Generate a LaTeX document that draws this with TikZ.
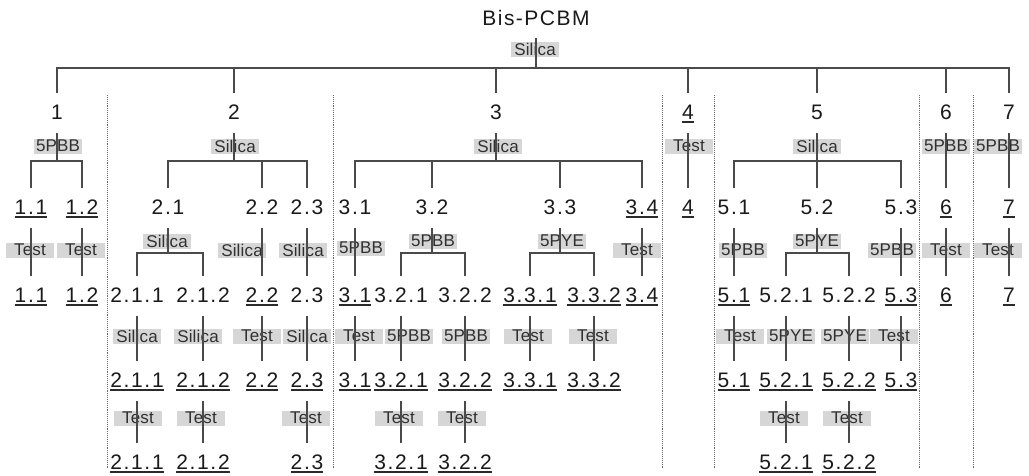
\documentclass[tikz,border=0pt]{standalone}
\usepackage{fontspec}
\setmainfont{Liberation Sans}
\newfontfamily\lvfont[LetterSpace=8]{Liberation Sans}
\newfontfamily\bxfont[LetterSpace=1]{Liberation Sans}
\newfontfamily\ttlfont[LetterSpace=7]{Liberation Sans}

\definecolor{txt}{HTML}{1A1A1A}
\definecolor{lncol}{HTML}{4A4A4A}
\definecolor{boxgray}{HTML}{D6D6D6}
\definecolor{bxtxt}{HTML}{303030}
\definecolor{ulcol}{HTML}{2A2A2A}
\definecolor{sepcol}{HTML}{6A6A6A}

\tikzset{
  lv/.style={inner sep=0pt, text=txt, font=\lvfont\fontsize{21}{21}\selectfont},
  bx/.style={inner sep=0pt, minimum width=48pt, minimum height=15pt, fill=boxgray,
             text=bxtxt, font=\bxfont\fontsize{17}{17}\selectfont},
  conn/.style={draw=lncol, line width=1.4pt},
  ulstyle/.style={draw=ulcol, line width=1.8pt},
  sepline/.style={draw=sepcol, line width=0.9pt, densely dotted},
}

% straight link from a parent label down to a child label
\newcommand\linkdown[2]{\draw[conn] ([yshift=-21pt]#1.center) -- ([yshift=19pt]#2.center);}
% stub from a parent label down to its bracket
\newcommand\stubdown[2]{\draw[conn] ([yshift=-21pt]#1.center) -- (#1 |- #2);}
% bracket ends: first child, last child, bracket level
\newcommand\bracketends[3]{\draw[conn] ([yshift=19pt]#1.center) -- (#1 |- #3) -- (#2 |- #3) -- ([yshift=19pt]#2.center);}
% inner drop from the bracket to a child
\newcommand\innerdrop[2]{\draw[conn] (#1 |- #2) -- ([yshift=19pt]#1.center);}

\begin{document}
\begin{tikzpicture}[x=1pt, y=-1pt]
\useasboundingbox (0,0) rectangle (1029,475);
\fill[white] (0,0) rectangle (1029,475);

% bracket levels
\coordinate (ktop) at (0,68);
\coordinate (k1) at (0,161);
\coordinate (k2) at (0,253);

% ---------- grey step boxes (drawn first, lines pass over them)
\node[bx] (x0) at (535,49) {Silica};
% row 2
\node[bx] (x1) at (58,146) {5PBB};
\node[bx] (x2) at (235,146) {Silica};
\node[bx] (x3) at (498,146) {Silica};
\node[bx] (x4) at (689,146) {Test};
\node[bx] (x5) at (817,146) {Silica};
\node[bx] (x6) at (946,146) {5PBB};
\node[bx] (x7) at (998,146) {5PBB};
% row 3
\node[bx] (y11) at (30,250) {Test};
\node[bx] (y12) at (81,250) {Test};
\node[bx] (y21) at (167,241) {Silica};
\node[bx] (y22) at (242,250) {Silica};
\node[bx] (y23) at (303,250) {Silica};
\node[bx] (y31) at (361,248) {5PBB};
\node[bx] (y32) at (433,241) {5PBB};
\node[bx] (y33) at (562,241) {5PYE};
\node[bx] (y34) at (637,250) {Test};
\node[bx] (y51) at (743,250) {5PBB};
\node[bx] (y52) at (817,241) {5PYE};
\node[bx] (y53) at (892,250) {5PBB};
\node[bx] (y6) at (946,250) {Test};
\node[bx] (y7) at (998,250) {Test};
% row 4
\node[bx] (z211) at (137,336) {Silica};
\node[bx] (z212) at (198,336) {Silica};
\node[bx] (z22) at (257,336) {Test};
\node[bx] (z23) at (307,336) {Silica};
\node[bx] (z31) at (359,336) {Test};
\node[bx] (z321) at (409,336) {5PBB};
\node[bx] (z322) at (466,336) {5PBB};
\node[bx] (z331) at (528,336) {Test};
\node[bx] (z332) at (593,336) {Test};
\node[bx] (z51) at (740,336) {Test};
\node[bx] (z521) at (791,336) {5PYE};
\node[bx] (z522) at (845,336) {5PYE};
\node[bx] (z53) at (894,336) {Test};
% row 5
\node[bx] (w211) at (138,418) {Test};
\node[bx] (w212) at (201,418) {Test};
\node[bx] (w23) at (306,418) {Test};
\node[bx] (w321) at (399,418) {Test};
\node[bx] (w322) at (462,418) {Test};
\node[bx] (w521) at (784,418) {Test};
\node[bx] (w522) at (847,418) {Test};

% ---------- labels
\node[inner sep=0pt, text=txt, font=\ttlfont\fontsize{21}{21}\selectfont] (title) at (536,18) {Bis-PCBM};

% level 1
\node[lv] (L1) at (57,112) {1};
\node[lv] (L2) at (234,112) {2};
\node[lv] (L3) at (496,112) {3};
\node[lv] (L4) at (688,112) {4};
\node[lv] (L5) at (817,112) {5};
\node[lv] (L6) at (946,112) {6};
\node[lv] (L7) at (1009,112) {7};

% level 2
\node[lv] (A11) at (31,207) {1.1};
\node[lv] (A12) at (82,207) {1.2};
\node[lv] (A21) at (168,207) {2.1};
\node[lv] (A22) at (262,207) {2.2};
\node[lv] (A23) at (307,207) {2.3};
\node[lv] (A31) at (355,207) {3.1};
\node[lv] (A32) at (432,207) {3.2};
\node[lv] (A33) at (560,207) {3.3};
\node[lv] (A34) at (642,207) {3.4};
\node[lv] (A4) at (688,207) {4};
\node[lv] (A51) at (734,207) {5.1};
\node[lv] (A52) at (817,207) {5.2};
\node[lv] (A53) at (901,207) {5.3};
\node[lv] (A6) at (946,207) {6};
\node[lv] (A7) at (1009,207) {7};

% level 3
\node[lv] (B11) at (31,295) {1.1};
\node[lv] (B12) at (82,295) {1.2};
\node[lv] (B211) at (137,295) {2.1.1};
\node[lv] (B212) at (203,295) {2.1.2};
\node[lv] (B22) at (262,295) {2.2};
\node[lv] (B23) at (307,295) {2.3};
\node[lv] (B31) at (355,295) {3.1};
\node[lv] (B321) at (401,295) {3.2.1};
\node[lv] (B322) at (465,295) {3.2.2};
\node[lv] (B331) at (530,295) {3.3.1};
\node[lv] (B332) at (594,295) {3.3.2};
\node[lv] (B34) at (642,295) {3.4};
\node[lv] (B51) at (734,295) {5.1};
\node[lv] (B521) at (786,295) {5.2.1};
\node[lv] (B522) at (849,295) {5.2.2};
\node[lv] (B53) at (901,295) {5.3};
\node[lv] (B6) at (946,295) {6};
\node[lv] (B7) at (1009,295) {7};

% level 4
\node[lv] (C211) at (137,380) {2.1.1};
\node[lv] (C212) at (203,380) {2.1.2};
\node[lv] (C22) at (262,380) {2.2};
\node[lv] (C23) at (307,380) {2.3};
\node[lv] (C31) at (355,380) {3.1};
\node[lv] (C321) at (401,380) {3.2.1};
\node[lv] (C322) at (465,380) {3.2.2};
\node[lv] (C331) at (530,380) {3.3.1};
\node[lv] (C332) at (594,380) {3.3.2};
\node[lv] (C51) at (734,380) {5.1};
\node[lv] (C521) at (786,380) {5.2.1};
\node[lv] (C522) at (849,380) {5.2.2};
\node[lv] (C53) at (901,380) {5.3};

% level 5
\node[lv] (D211) at (137,462) {2.1.1};
\node[lv] (D212) at (203,462) {2.1.2};
\node[lv] (D23) at (307,462) {2.3};
\node[lv] (D321) at (401,462) {3.2.1};
\node[lv] (D322) at (465,462) {3.2.2};
\node[lv] (D521) at (786,462) {5.2.1};
\node[lv] (D522) at (849,462) {5.2.2};

% ---------- underlined (final) samples
\foreach \u in {L4, A11, A12, A34, A4, A6, A7,
                B11, B12, B22, B31, B331, B332, B34, B51, B53, B6, B7,
                C211, C212, C22, C23, C31, C321, C322, C331, C332, C51, C521, C522, C53,
                D211, D212, D23, D321, D322, D521, D522}
  {\draw[ulstyle] ([yshift=-2.5pt]\u.base west) -- ([yshift=-2.5pt]\u.base east);}

% ---------- column separators
\foreach \sx in {107,333,662,714,919,973}
  {\draw[sepline] (\sx,95) -- (\sx,468);}

% ---------- connectors
% top bracket
\draw[conn] ([yshift=-20pt]title.center) -- (title |- ktop);
\draw[conn] ([yshift=19pt]L1.center) -- (L1 |- ktop) -- (L7 |- ktop) -- ([yshift=19pt]L7.center);
\foreach \n in {L2,L3,L4,L5,L6} {\innerdrop{\n}{ktop}}

% level 1 -> level 2
\stubdown{L1}{k1}
\bracketends{A11}{A12}{k1}
\stubdown{L2}{k1}
\bracketends{A21}{A23}{k1}
\innerdrop{A22}{k1}
\stubdown{L3}{k1}
\bracketends{A31}{A34}{k1}
\innerdrop{A32}{k1}
\innerdrop{A33}{k1}
\linkdown{L4}{A4}
\stubdown{L5}{k1}
\bracketends{A51}{A53}{k1}
\innerdrop{A52}{k1}
\linkdown{L6}{A6}
\linkdown{L7}{A7}

% level 2 -> level 3
\linkdown{A11}{B11}
\linkdown{A12}{B12}
\stubdown{A21}{k2}
\bracketends{B211}{B212}{k2}
\linkdown{A22}{B22}
\linkdown{A23}{B23}
\linkdown{A31}{B31}
\stubdown{A32}{k2}
\bracketends{B321}{B322}{k2}
\stubdown{A33}{k2}
\bracketends{B331}{B332}{k2}
\linkdown{A34}{B34}
\linkdown{A51}{B51}
\stubdown{A52}{k2}
\bracketends{B521}{B522}{k2}
\linkdown{A53}{B53}
\linkdown{A6}{B6}
\linkdown{A7}{B7}

% level 3 -> level 4
\linkdown{B211}{C211}
\linkdown{B212}{C212}
\linkdown{B22}{C22}
\linkdown{B23}{C23}
\linkdown{B31}{C31}
\linkdown{B321}{C321}
\linkdown{B322}{C322}
\linkdown{B331}{C331}
\linkdown{B332}{C332}
\linkdown{B51}{C51}
\linkdown{B521}{C521}
\linkdown{B522}{C522}
\linkdown{B53}{C53}

% level 4 -> level 5
\linkdown{C211}{D211}
\linkdown{C212}{D212}
\linkdown{C23}{D23}
\linkdown{C321}{D321}
\linkdown{C322}{D322}
\linkdown{C521}{D521}
\linkdown{C522}{D522}
\end{tikzpicture}
\end{document}
